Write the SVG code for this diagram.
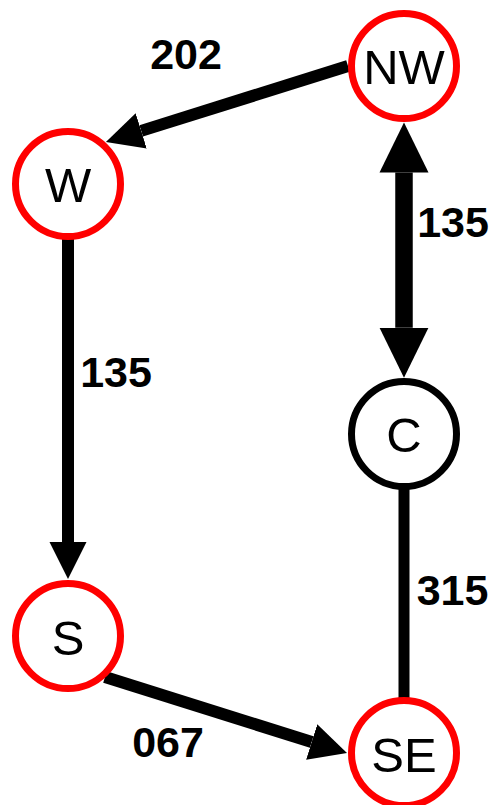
<svg xmlns="http://www.w3.org/2000/svg" width="493" height="805" viewBox="0 0 493 805">
<style>
.node circle{fill:#fff;stroke-width:7}
.red circle{stroke:#ff0000}
.blk circle{stroke:#000}
.node text{font-family:"Liberation Sans",Arial,sans-serif;font-size:49px;fill:#000;text-anchor:middle}
.edge{stroke:#000;fill:none}
.lbl{font-family:"Liberation Sans",Arial,sans-serif;font-size:43px;font-weight:bold;fill:#000;text-anchor:middle}
</style>
<defs>
<marker id="arr" markerUnits="userSpaceOnUse" viewBox="0 -19 38 38" markerWidth="38" markerHeight="38" refX="0" refY="0" orient="auto-start-reverse">
<path d="M0,-18.5 L37,0 L0,18.5 z" fill="#000"/>
</marker>
<marker id="arrBig" markerUnits="userSpaceOnUse" viewBox="0 -25 51 50" markerWidth="51" markerHeight="50" refX="0" refY="0" orient="auto-start-reverse">
<path d="M0,-24.5 L50,0 L0,24.5 z" fill="#000"/>
</marker>
</defs>
<g id="connectors">
<line class="edge" x1="348" y1="66" x2="141.2" y2="130.9" stroke-width="12" marker-end="url(#arr)"/>
<line class="edge" x1="68" y1="238" x2="68" y2="542" stroke-width="12" marker-end="url(#arr)"/>
<line class="edge" x1="105" y1="677" x2="311.7" y2="742" stroke-width="12" marker-end="url(#arr)"/>
<line class="edge" x1="404" y1="172.5" x2="404" y2="327.7" stroke-width="17.5" marker-start="url(#arrBig)" marker-end="url(#arrBig)"/>
<line class="edge" x1="404" y1="488" x2="404" y2="699" stroke-width="11"/>
<text class="lbl" x="186" y="69">202</text>
<text class="lbl" x="453" y="236.5">135</text>
<text class="lbl" x="116" y="387">135</text>
<text class="lbl" x="452.5" y="605">315</text>
<text class="lbl" x="168" y="756.5">067</text>
</g>
<g id="node-NW" class="node red"><circle cx="404" cy="66" r="52.5"/><text x="404" y="83.5">NW</text></g>
<g id="node-W" class="node red"><circle cx="68" cy="184" r="52.5"/><text x="68" y="202">W</text></g>
<g id="node-C" class="node blk"><circle cx="404" cy="434" r="52.5"/><text x="404" y="452">C</text></g>
<g id="node-S" class="node red"><circle cx="68" cy="636" r="52.5"/><text x="68" y="654.5">S</text></g>
<g id="node-SE" class="node red"><circle cx="404" cy="753" r="52.5"/><text x="404" y="771.5">SE</text></g>
</svg>
